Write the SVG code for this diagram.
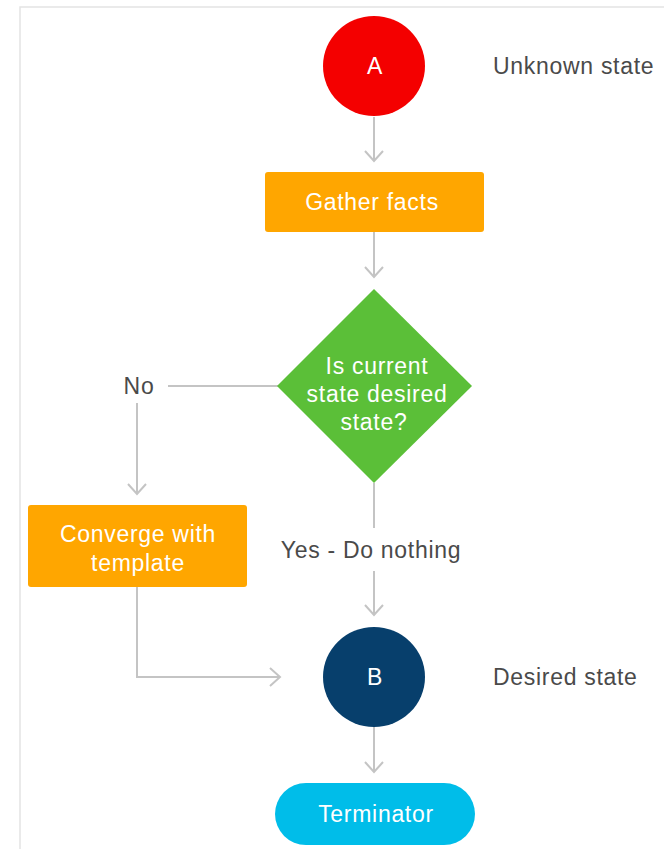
<svg xmlns="http://www.w3.org/2000/svg" width="664" height="849" viewBox="0 0 664 849">
<defs>
<style>
.lbl{font-family:"Liberation Sans",Arial,sans-serif;font-size:23px;letter-spacing:0.7px;fill:#ffffff;text-anchor:middle;}
.side{font-family:"Liberation Sans",Arial,sans-serif;font-size:23px;letter-spacing:0.7px;fill:#4a4a4a;}
.conn{fill:none;stroke:#c4c4c4;stroke-width:2;}
</style>
<marker id="arr" viewBox="0 0 20 20" refX="18" refY="10" markerWidth="20" markerHeight="20" markerUnits="userSpaceOnUse" orient="auto">
<path d="M8,1 L18,10 L8,19" fill="none" stroke="#c4c4c4" stroke-width="2"/>
</marker>
</defs>
<rect x="0" y="0" width="664" height="849" fill="#ffffff"/>
<path d="M20,849 L20,7 L664,7" fill="none" stroke="#e4e4e4" stroke-width="1.5"/>
<g id="connectors">
<line class="conn" x1="374" y1="117" x2="374" y2="161" marker-end="url(#arr)"/>
<line class="conn" x1="374" y1="232" x2="374" y2="277" marker-end="url(#arr)"/>
<line class="conn" x1="278" y1="386" x2="168" y2="386"/>
<line class="conn" x1="137" y1="403" x2="137" y2="494" marker-end="url(#arr)"/>
<line class="conn" x1="374" y1="483" x2="374" y2="528"/>
<line class="conn" x1="374" y1="571" x2="374" y2="615" marker-end="url(#arr)"/>
<path class="conn" d="M137,587 L137,677 L280,677" marker-end="url(#arr)"/>
<line class="conn" x1="374" y1="727" x2="374" y2="772" marker-end="url(#arr)"/>
<text class="side" x="139" y="394" text-anchor="middle">No</text>
<text class="side" x="371" y="558" text-anchor="middle">Yes - Do nothing</text>
</g>
<g id="nodeA">
<ellipse cx="374" cy="66" rx="51" ry="50" fill="#f40000"/>
<text class="lbl" x="375" y="74">A</text>
<text class="side" x="493" y="74">Unknown state</text>
</g>
<g id="gather">
<rect x="265" y="172" width="219" height="60" rx="3" fill="#ffa600"/>
<text class="lbl" x="372" y="210">Gather facts</text>
</g>
<g id="decision">
<polygon points="374,289 472,386 374,483 277,386" fill="#5bbf38"/>
<text class="lbl" x="377" y="374">Is current</text>
<text class="lbl" x="377" y="402">state desired</text>
<text class="lbl" x="374" y="430">state?</text>
</g>
<g id="converge">
<rect x="28" y="505" width="219" height="82" rx="3" fill="#ffa600"/>
<text class="lbl" x="138" y="542">Converge with</text>
<text class="lbl" x="138" y="571">template</text>
</g>
<g id="nodeB">
<ellipse cx="374" cy="677" rx="51" ry="50" fill="#073f6c"/>
<text class="lbl" x="375" y="685">B</text>
<text class="side" x="493" y="685">Desired state</text>
</g>
<g id="terminator">
<rect x="275" y="783" width="200" height="62" rx="31" fill="#00bde9"/>
<text class="lbl" x="376" y="822">Terminator</text>
</g>
</svg>
